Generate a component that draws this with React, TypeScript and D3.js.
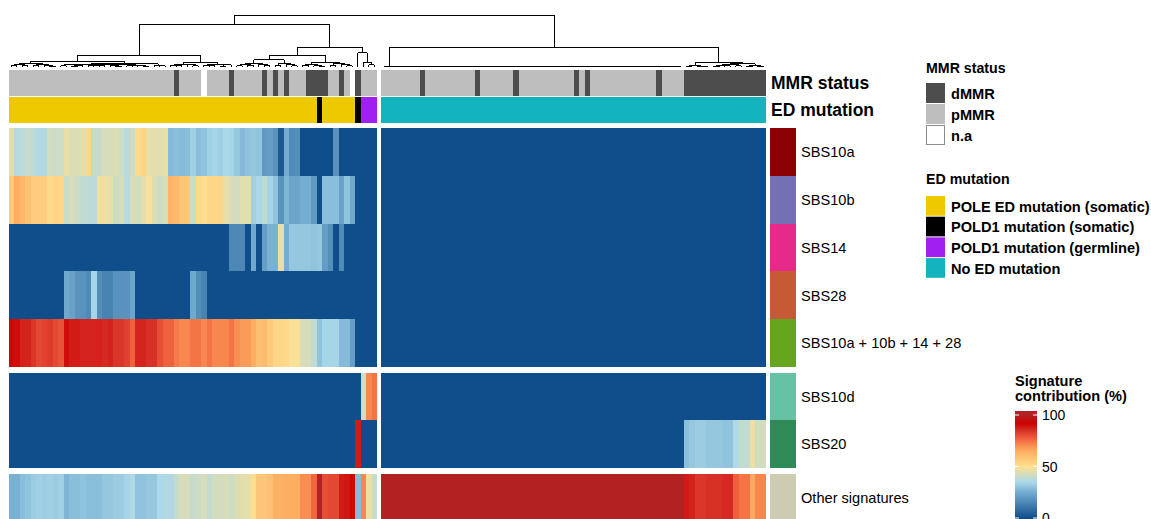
import React from 'react';
import * as d3 from 'd3';

// ---------------- DATA ----------------
const SIGNATURES = ['SBS10a', 'SBS10b', 'SBS14', 'SBS28', 'SBS10a + 10b + 14 + 28', 'SBS10d', 'SBS20', 'Other signatures'];
const SIG_COLORS = ['#8B0000', '#7570B3', '#E7298A', '#C55A35', '#66A61E', '#66C2A5', '#2E8B57', '#CDCBB0'];
const ROW_SLICE = [0, 0, 0, 0, 0, 1, 1, 2];

const N_LEFT = 67;
const N_RIGHT = 70;

// MMR status per sample: d = dMMR, p = pMMR, n = n.a
const MMR_LEFT = 'pppppppppp' + 'pppppppppp' + 'pppppppppp' + 'dppppnpppp' + 'dpppppdpdp' + 'dpppddddpp' + 'dpndppp';
const MMR_RIGHT = 'pppppppdpp' + 'pppppppdpp' + 'ppppdppppp' + 'pppppdpdpp' + 'pppppppppp' + 'dppppddddd' + 'dddddddddd';
// ED mutation: y = POLE somatic, b = POLD1 somatic, g = POLD1 germline, c = none
const ED_LEFT = 'yyyyyyyyyy' + 'yyyyyyyyyy' + 'yyyyyyyyyy' + 'yyyyyyyyyy' + 'yyyyyyyyyy' + 'yyyyyybyyy' + 'yyybggg';
const ED_RIGHT = 'cccccccccc' + 'cccccccccc' + 'cccccccccc' + 'cccccccccc' + 'cccccccccc' + 'cccccccccc' + 'cccccccccc';

const sbs10a = [
  45, 37, 38, 40, 38, 36, 36, 42, 41, 41, 46, 44, 44, 45, 53, 40, 40, 43, 43, 44,
  41, 37, 41, 52, 54, 46, 45, 45, 46, 28, 29, 28, 29, 33, 29, 30, 33, 34, 33, 35,
  34, 31, 28, 30, 31, 30, 20, 21, 18, 3, 25, 16, 17, 0, 0, 0, 0, 0, 0, 18,
  0, 0, 0, 0, 0, 0, 0,
  0, 0, 0, 0, 0, 0, 0, 0, 0, 0, 0, 0, 0, 0, 0, 0, 0, 0, 0, 0, 0, 0, 0, 0, 0, 0, 0, 0, 0, 0, 0, 0, 0, 0, 0,
  0, 0, 0, 0, 0, 0, 0, 0, 0, 0, 0, 0, 0, 0, 0, 0, 0, 0, 0, 0, 0, 0, 0, 0, 0, 0, 0, 0, 0, 0, 0, 0, 0, 0, 0,
];
const sbs10b = [
  57, 65, 62, 59, 56, 56, 56, 52, 54, 53, 40, 43, 41, 39, 38, 38, 48, 47, 46, 41,
  43, 37, 44, 42, 45, 49, 44, 41, 43, 63, 62, 58, 57, 41, 52, 51, 53, 53, 53, 46,
  43, 42, 45, 45, 33, 35, 39, 34, 30, 18, 27, 23, 23, 25, 25, 20, 0, 29, 29, 29,
  22, 30, 24, 0, 0, 0, 0,
  0, 0, 0, 0, 0, 0, 0, 0, 0, 0, 0, 0, 0, 0, 0, 0, 0, 0, 0, 0, 0, 0, 0, 0, 0, 0, 0, 0, 0, 0, 0, 0, 0, 0, 0,
  0, 0, 0, 0, 0, 0, 0, 0, 0, 0, 0, 0, 0, 0, 0, 0, 0, 0, 0, 0, 0, 0, 0, 0, 0, 0, 0, 0, 0, 0, 0, 0, 0, 0, 0,
];
const sbs14 = [
  0, 0, 0, 0, 0, 0, 0, 0, 0, 0, 0, 0, 0, 0, 0, 0, 0, 0, 0, 0,
  0, 0, 0, 0, 0, 0, 0, 0, 0, 0, 0, 0, 0, 0, 0, 0, 0, 0, 0, 0,
  15, 15, 15, 0, 24, 0, 21, 26, 26, 46, 25, 31, 31, 31, 31, 30, 31, 21, 17, 0,
  16, 0, 0, 0, 0, 0, 0,
  0, 0, 0, 0, 0, 0, 0, 0, 0, 0, 0, 0, 0, 0, 0, 0, 0, 0, 0, 0, 0, 0, 0, 0, 0, 0, 0, 0, 0, 0, 0, 0, 0, 0, 0,
  0, 0, 0, 0, 0, 0, 0, 0, 0, 0, 0, 0, 0, 0, 0, 0, 0, 0, 0, 0, 0, 0, 0, 0, 0, 0, 0, 0, 0, 0, 0, 0, 0, 0, 0,
];
const sbs28 = [
  0, 0, 0, 0, 0, 0, 0, 0, 0, 0, 24, 22, 18, 18, 16, 34, 17, 14, 14, 18,
  18, 18, 23, 0, 0, 0, 0, 0, 0, 0, 0, 0, 0, 24, 17, 14, 0, 0, 0, 0,
  0, 0, 0, 0, 0, 0, 0, 0, 0, 0, 0, 0, 0, 0, 0, 0, 0, 0, 0, 0,
  0, 0, 0, 0, 0, 0, 0,
  0, 0, 0, 0, 0, 0, 0, 0, 0, 0, 0, 0, 0, 0, 0, 0, 0, 0, 0, 0, 0, 0, 0, 0, 0, 0, 0, 0, 0, 0, 0, 0, 0, 0, 0,
  0, 0, 0, 0, 0, 0, 0, 0, 0, 0, 0, 0, 0, 0, 0, 0, 0, 0, 0, 0, 0, 0, 0, 0, 0, 0, 0, 0, 0, 0, 0, 0, 0, 0, 0,
];
const sbsCombined = [
  91, 90, 87, 87, 84, 81, 82, 83, 81, 79, 90, 88, 88, 87, 87, 87, 87, 86, 87, 84,
  84, 82, 77, 87, 87, 85, 85, 80, 77, 77, 73, 71, 71, 74, 74, 71, 74, 71, 71, 71,
  74, 70, 68, 68, 65, 60, 61, 57, 53, 53, 52, 49, 49, 43, 43, 39, 30, 34, 34, 34,
  28, 28, 21, 0, 0, 0, 0,
  0, 0, 0, 0, 0, 0, 0, 0, 0, 0, 0, 0, 0, 0, 0, 0, 0, 0, 0, 0, 0, 0, 0, 0, 0, 0, 0, 0, 0, 0, 0, 0, 0, 0, 0,
  0, 0, 0, 0, 0, 0, 0, 0, 0, 0, 0, 0, 0, 0, 0, 0, 0, 0, 0, 0, 0, 0, 0, 0, 0, 0, 0, 0, 0, 0, 0, 0, 0, 0, 0,
];
const sbs10d = [
  0, 0, 0, 0, 0, 0, 0, 0, 0, 0, 0, 0, 0, 0, 0, 0, 0, 0, 0, 0,
  0, 0, 0, 0, 0, 0, 0, 0, 0, 0, 0, 0, 0, 0, 0, 0, 0, 0, 0, 0,
  0, 0, 0, 0, 0, 0, 0, 0, 0, 0, 0, 0, 0, 0, 0, 0, 0, 0, 0, 0,
  0, 0, 0, 0, 42, 71, 74,
  0, 0, 0, 0, 0, 0, 0, 0, 0, 0, 0, 0, 0, 0, 0, 0, 0, 0, 0, 0, 0, 0, 0, 0, 0, 0, 0, 0, 0, 0, 0, 0, 0, 0, 0,
  0, 0, 0, 0, 0, 0, 0, 0, 0, 0, 0, 0, 0, 0, 0, 0, 0, 0, 0, 0, 0, 0, 0, 0, 0, 0, 0, 0, 0, 0, 0, 0, 0, 0, 0,
];
const sbs20 = [
  0, 0, 0, 0, 0, 0, 0, 0, 0, 0, 0, 0, 0, 0, 0, 0, 0, 0, 0, 0,
  0, 0, 0, 0, 0, 0, 0, 0, 0, 0, 0, 0, 0, 0, 0, 0, 0, 0, 0, 0,
  0, 0, 0, 0, 0, 0, 0, 0, 0, 0, 0, 0, 0, 0, 0, 0, 0, 0, 0, 0,
  0, 0, 0, 88, 0, 0, 0,
  0, 0, 0, 0, 0, 0, 0, 0, 0, 0, 0, 0, 0, 0, 0, 0, 0, 0, 0, 0, 0, 0, 0, 0, 0, 0, 0, 0, 0, 0, 0, 0, 0, 0, 0,
  0, 0, 0, 0, 0, 0, 0, 0, 0, 0, 0, 0, 0, 0, 0, 0, 0, 0, 0, 0,
  29, 31, 32, 32, 31, 31, 31, 30, 30, 36, 39, 39, 47, 42, 42,
];
const sbsOther = [
  26, 26, 29, 30, 32, 33, 32, 33, 32, 33, 27, 29, 29, 30, 29, 29, 29, 31, 31, 32,
  32, 34, 36, 30, 30, 31, 31, 35, 36, 36, 40, 43, 43, 40, 41, 43, 39, 42, 42, 43,
  41, 44, 45, 46, 51, 58, 58, 60, 64, 64, 65, 65, 65, 70, 70, 76, 100, 80, 81, 81,
  88, 89, 91, 28, 71, 47, 40,
  100, 100, 100, 100, 100, 100, 100, 100, 100, 100, 100, 100, 100, 100, 100, 100, 100, 100, 100, 100,
  100, 100, 100, 100, 100, 100, 100, 100, 100, 100, 100, 100, 100, 100, 100, 100, 100, 100, 100, 100,
  100, 100, 100, 100, 100, 100, 100, 100, 100, 100, 100, 100, 100, 100, 100,
  88, 87, 84, 84, 85, 85, 85, 86, 86, 77, 74, 74, 66, 71, 71,
];
const VALUES = [sbs10a, sbs10b, sbs14, sbs28, sbsCombined, sbs10d, sbs20, sbsOther];

// Dendrogram: [height, child, child, ...]; leaves are sample indices; >2 children = chain merged at same height
const DENDRO: any = [100,
  [81,
    [23,
      [11.5,
        [7.5, [4, [2, 0, 1], [3, 2, 3]], [5, [2.5, 4, 5], [3.5, 6, [1.5, 7, 8]]]],
        [6,
          [5, [4, [2, 9, 10], [3, [1, 11, 12], 13]], [4.5, [3, [2, 14, 15], [2.5, 16, 17]], [4, [3, 18, [1.5, 19, 20]], [3.5, [2, 21, 22], [2.5, 23, [1, 24, 25]]]]]],
          [3, 26, [2, 27, 28]]]],
      [7.7, [5, [3, 29, [2, 30, 31]], [4, 32, [2.5, 33, 34]]], [5.5, [3.5, 35, [2, 36, 37]], [4, [1.5, 38, 39], 40]]]],
    [37,
      [23,
        [13.5, [6, [4, [2, 41, 42], [3, 43, 44]], [5, 45, [2.5, 46, 47]]], [7, [3, 48, 49], [4.5, 50, [2, 51, 52]]]],
        [9.6, [5, [3, 53, 54], [2.5, 55, [1.5, 56, 57]]], [6, [3.5, 58, 59], [4, 60, [2, 61, 62]]]]],
      [27, 63, [9.6, 64, [4, 65, 66]]]]],
  [37,
    [0.3, 67, 68, 69, 70, 71, 72, 73, 74, 75, 76, 77, 78, 79, 80, 81, 82, 83, 84, 85, 86, 87, 88, 89, 90,
      91, 92, 93, 94, 95, 96, 97, 98, 99, 100, 101, 102, 103, 104, 105, 106, 107, 108, 109, 110, 111, 112,
      113, 114, 115, 116, 117, 118, 119, 120, 121],
    [9.6,
      [2, [1, 122, 123], [1.5, 124, [0.8, 125, 126]]],
      [6, [4, [3, [1.5, 127, 128], [2, 129, 130]], [2.5, 131, 132]], [3, [1, 133, 134], [1.2, 135, 136]]]]]];

const MMR_LEGEND = [
  { key: 'd', label: 'dMMR', color: '#4D4D4D' },
  { key: 'p', label: 'pMMR', color: '#BEBEBE' },
  { key: 'n', label: 'n.a', color: '#FFFFFF' },
];
const ED_LEGEND = [
  { key: 'y', label: 'POLE ED mutation (somatic)', color: '#EEC900' },
  { key: 'b', label: 'POLD1 mutation (somatic)', color: '#000000' },
  { key: 'g', label: 'POLD1 mutation (germline)', color: '#A020F0' },
  { key: 'c', label: 'No ED mutation', color: '#14B4BE' },
];
const COLOR_STOPS = [0, 25, 35, 50, 65, 75, 85, 92, 100];
const COLOR_RANGE = ['#104E8B', '#74ADD1', '#ABD9E9', '#FEE090', '#FDAE61', '#F46D43', '#D73027', '#CC0000', '#B22222'];
const LEGEND_TICKS = [0, 50, 100];

// ---------------- LAYOUT ----------------
const FONT = 'Liberation Sans, Arial, Helvetica, sans-serif';
const color = d3.scaleLinear<string>().domain(COLOR_STOPS).range(COLOR_RANGE).interpolate(d3.interpolateRgb).clamp(true);

const leftIdx = d3.range(N_LEFT);
const rightIdx = d3.range(N_LEFT, N_LEFT + N_RIGHT);
const xLeft = d3.scaleBand<number>().domain(leftIdx).range([8.5, 377]).paddingInner(0);
const xRight = d3.scaleBand<number>().domain(rightIdx).range([381, 766]).paddingInner(0);
const xOf = (i: number) => (i < N_LEFT ? xLeft(i)! : xRight(i)!);
const colW = (i: number) => (i < N_LEFT ? xLeft.bandwidth() : xRight.bandwidth());

const SLICE_RANGES: [number, number][] = [[128, 367], [372.5, 468], [473.5, 521]];
const sliceScales = SLICE_RANGES.map((r, s) =>
  d3.scaleBand<number>().domain(d3.range(8).filter((k) => ROW_SLICE[k] === s)).range(r).paddingInner(0)
);
const rowY = (k: number) => sliceScales[ROW_SLICE[k]](k)!;
const rowH = (k: number) => sliceScales[ROW_SLICE[k]].bandwidth();

const MMR = MMR_LEFT + MMR_RIGHT;
const ED = ED_LEFT + ED_RIGHT;
const mmrColor = new Map(MMR_LEGEND.map((d) => [d.key, d.color]));
const edColor = new Map(ED_LEGEND.map((d) => [d.key, d.color]));

const dendY = d3.scaleLinear().domain([0, 100]).range([67, 15]);

type Seg = [number, number, number, number];
function layoutNode(node: any, segs: Seg[]): { x: number; h: number } {
  if (typeof node === 'number') return { x: xOf(node) + colW(node) / 2, h: 0 };
  const h = node[0];
  const kids = node.slice(1);
  if (kids.length > 2) {
    return layoutNode([h, kids[0], [h, ...kids.slice(1)]], segs);
  }
  const a = layoutNode(kids[0], segs);
  const b = layoutNode(kids[1], segs);
  const y = dendY(h);
  segs.push([a.x, y, b.x, y]);
  segs.push([a.x, y, a.x, dendY(a.h)]);
  segs.push([b.x, y, b.x, dendY(b.h)]);
  return { x: (a.x + b.x) / 2, h };
}
const dendSegs: Seg[] = [];
layoutNode(DENDRO, dendSegs);

const cbY = d3.scaleLinear().domain([0, 100]).range([518, 415]);
const LEG_FS = 14.6;

export default function App() {
  const samples = d3.range(N_LEFT + N_RIGHT);
  return (
    <svg
      width={1151}
      height={519}
      style={{ position: 'absolute', left: 0, top: 0, background: '#fff' }}
      fontFamily={FONT}
    >
      <rect x={0} y={0} width={1151} height={519} fill="#fff" />
      {/* dendrogram */}
      <g stroke="#000" strokeWidth={1} shapeRendering="crispEdges">
        {dendSegs.map((s, i) => (
          <line key={i} x1={s[0]} y1={s[1]} x2={s[2]} y2={s[3]} />
        ))}
      </g>
      {/* annotations */}
      <g shapeRendering="crispEdges">
        {samples.map((i) => (
          <rect key={'m' + i} x={xOf(i)} y={70} width={colW(i)} height={26} fill={mmrColor.get(MMR[i])} />
        ))}
        {samples.map((i) => (
          <rect key={'e' + i} x={xOf(i)} y={97} width={colW(i)} height={26} fill={edColor.get(ED[i])} />
        ))}
      </g>
      <text x={771} y={89} fontSize={17.5} fontWeight="bold">MMR status</text>
      <text x={771} y={116} fontSize={17.5} fontWeight="bold">ED mutation</text>
      {/* heatmap */}
      <g shapeRendering="crispEdges">
        {VALUES.map((row, k) =>
          samples.map((i) => (
            <rect key={k + '-' + i} x={xOf(i)} y={rowY(k)} width={colW(i)} height={rowH(k)} fill={color(row[i])} />
          ))
        )}
        {SIGNATURES.map((s, k) => (
          <rect key={'ra' + k} x={770} y={rowY(k)} width={26} height={rowH(k)} fill={SIG_COLORS[k]} />
        ))}
      </g>
      {SIGNATURES.map((s, k) => (
        <text key={'rl' + k} x={801} y={rowY(k) + rowH(k) / 2} dy="0.36em" fontSize={14.6}>
          {s}
        </text>
      ))}
      {/* MMR legend */}
      <text x={926} y={73} fontSize={14.2} fontWeight="bold">MMR status</text>
      {MMR_LEGEND.map((d, j) => (
        <g key={d.key}>
          <rect
            x={d.key === 'n' ? 926.5 : 926}
            y={83 + j * 21 + (d.key === 'n' ? 0.5 : 0)}
            width={d.key === 'n' ? 18 : 19}
            height={d.key === 'n' ? 19 : 20}
            fill={d.color}
            stroke={d.key === 'n' ? '#8C8C8C' : 'none'}
          />
          <text x={951} y={83 + j * 21 + 15.5} fontSize={LEG_FS} fontWeight="bold">{d.label}</text>
        </g>
      ))}
      {/* ED legend */}
      <text x={926} y={184} fontSize={14.2} fontWeight="bold">ED mutation</text>
      {ED_LEGEND.map((d, j) => (
        <g key={d.key}>
          <rect x={926} y={196 + j * 20.7} width={19} height={19.7} fill={d.color} />
          <text x={951} y={196 + j * 20.7 + 15.5} fontSize={LEG_FS} fontWeight="bold">{d.label}</text>
        </g>
      ))}
      {/* colour bar legend */}
      <text x={1015} y={386} fontSize={LEG_FS} fontWeight="bold">Signature</text>
      <text x={1015} y={401} fontSize={LEG_FS} fontWeight="bold">contribution (%)</text>
      <defs>
        <linearGradient id="cbgrad" gradientUnits="userSpaceOnUse" x1={0} x2={0} y1={cbY(0)} y2={cbY(100)}>
          {d3.range(0, 101, 2).map((v) => (
            <stop key={v} offset={`${v}%`} stopColor={color(v)} />
          ))}
        </linearGradient>
      </defs>
      <rect x={1015} y={411} width={22} height={112} fill="url(#cbgrad)" />
      {LEGEND_TICKS.map((t) => (
        <g key={t}>
          <line x1={1015} x2={1019} y1={cbY(t)} y2={cbY(t)} stroke="#fff" strokeWidth={1} />
          <line x1={1033} x2={1037} y1={cbY(t)} y2={cbY(t)} stroke="#fff" strokeWidth={1} />
          <text x={1042} y={cbY(t)} dy="0.36em" fontSize={14}>{t}</text>
        </g>
      ))}
    </svg>
  );
}
